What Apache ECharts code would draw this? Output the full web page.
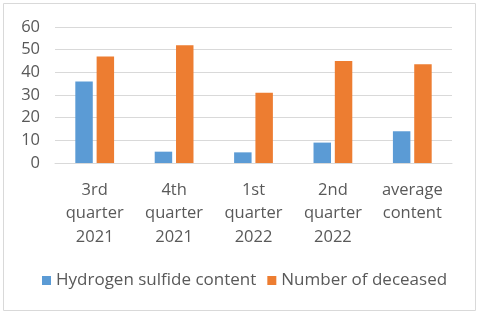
<!DOCTYPE html>
<html><head><meta charset="utf-8">
<script src="https://cdn.jsdelivr.net/npm/echarts@6/dist/echarts.min.js"></script>
<style>html,body{margin:0;padding:0;background:#fff}#c{width:480px;height:317px}</style>
</head><body><div id="c"></div>
<script>
const categories = ["3rd\nquarter\n2021", "4th\nquarter\n2021", "1st\nquarter\n2022", "2nd\nquarter\n2022", "average\ncontent"];
const hydrogenSulfide = [36, 5, 4.7, 9, 14];
const deceased = [47, 52, 31, 45, 43.6];
const seriesNames = ["Hydrogen sulfide content", "Number of deceased"];

const chart = echarts.init(document.getElementById('c'), null, {renderer: 'canvas'});
const font = 'Open Sans';
chart.setOption({
  animation: false,
  graphic: [{type: 'rect', shape: {x: 3.5, y: 3.5, width: 472, height: 307}, style: {fill: 'none', stroke: '#d9d9d9', lineWidth: 1}}],
  grid: {left: 55, right: 28, top: 27, bottom: 154, containLabel: false},
  legend: {
    data: seriesNames, top: 272, left: 42, itemWidth: 9, itemHeight: 9, itemGap: 11,
    icon: 'rect', padding: 0,
    textStyle: {fontFamily: font, fontSize: 17, color: '#595959'}
  },
  xAxis: {
    type: 'category', data: categories,
    axisLine: {show: true, lineStyle: {color: '#d9d9d9'}}, axisTick: {show: false},
    axisLabel: {fontFamily: font, fontSize: 16.5, color: '#595959', lineHeight: 23.8, margin: 15, interval: 0}
  },
  yAxis: {
    type: 'value', min: 0, max: 60, interval: 10,
    axisLine: {show: false}, axisTick: {show: false},
    splitLine: {lineStyle: {color: '#d9d9d9', width: 1}},
    axisLabel: {fontFamily: font, fontSize: 16.5, color: '#595959', margin: 15}
  },
  series: [
    {name: seriesNames[0], type: 'bar', data: hydrogenSulfide, barWidth: '22%', barGap: '22%', itemStyle: {color: '#5B9BD5'}},
    {name: seriesNames[1], type: 'bar', data: deceased, barWidth: '22%', itemStyle: {color: '#ED7D31'}}
  ]
});
</script></body></html>
